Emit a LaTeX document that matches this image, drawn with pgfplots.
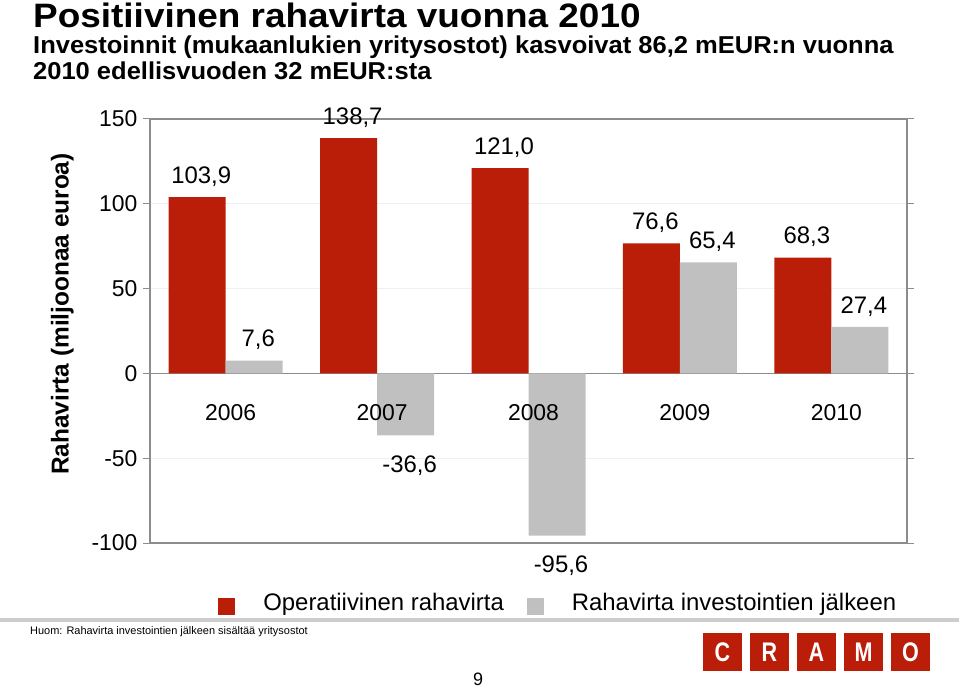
\documentclass[border=0pt]{standalone}
\usepackage{fontspec}
\setmainfont{Liberation Sans}
\newfontfamily\cond[FakeStretch=0.8]{Liberation Sans}
\newfontfamily\widetitle[FakeStretch=1.09]{Liberation Sans}
\newfontfamily\widesub[FakeStretch=1.045]{Liberation Sans}
\usepackage{pgfplots}
\pgfplotsset{compat=1.18}
\definecolor{cramored}{RGB}{186,30,8}
\definecolor{bargray}{RGB}{192,192,192}
\definecolor{framegray}{RGB}{140,140,140}
\pgfplotsset{
  layers/mylayers/.define layer set={axis background,axis grid,axis ticks,axis lines,main,axis tick labels,axis descriptions,axis foreground}{
    grid style={/pgfplots/on layer=axis grid},
    tick style={/pgfplots/on layer=axis ticks},
    axis line style={/pgfplots/on layer=axis lines},
    label style={/pgfplots/on layer=axis descriptions},
    legend style={/pgfplots/on layer=axis descriptions},
    ticklabel style={/pgfplots/on layer=axis tick labels},
  },
}

\begin{document}
\begin{tikzpicture}
\path (0bp,0bp) rectangle (959bp,689bp);
\node[anchor=base west, inner sep=0, font=\widetitle\bfseries\fontsize{34}{34}\selectfont] at (33bp,661bp) {Positiivinen rahavirta vuonna 2010};
\node[anchor=base west, inner sep=0, font=\widesub\bfseries\fontsize{24.5}{24.5}\selectfont] at (33bp,635bp) {Investoinnit (mukaanlukien yritysostot) kasvoivat 86,2 mEUR:n vuonna};
\node[anchor=base west, inner sep=0, font=\widesub\bfseries\fontsize{24.5}{24.5}\selectfont] at (33bp,609bp) {2010 edellisvuoden 32 mEUR:sta};

\begin{axis}[
  set layers=mylayers,
  at={(150bp,146bp)}, anchor=south west,
  width=757bp, height=424bp, scale only axis,
  xmin=0.5, xmax=5.5, ymin=-100, ymax=150,
  ybar=0pt, bar width=57bp,
  clip=false,
  xtick={1,2,3,4,5},
  xticklabels={2006,2007,2008,2009,2010},
  ytick={-100,-50,0,50,100,150},
  xtick style={draw=none},
  tick align=outside,
  major tick length=7bp,
  ytick style={framegray, line width=1pt},
  axis line style={framegray, line width=1.3pt},
  ymajorgrids,
  grid style={gray!12, line width=0.8pt},
  extra y ticks={0},
  extra y tick labels={},
  extra y tick style={grid=major, major grid style={framegray, line width=1.2pt}},
  /pgf/number format/assume math mode=true,
  yticklabel style={font=\fontsize{23}{23}\selectfont, xshift=-2bp},
  xticklabel style={font=\fontsize{23}{23}\selectfont, anchor=north, yshift=149bp, xshift=5bp},
  ylabel={Rahavirta (miljoonaa euroa)},
  ylabel style={font=\bfseries\fontsize{24.5}{24.5}\selectfont, at={(axis description cs:-0.116,0.54)}, anchor=center},
  visualization depends on=y \as \rawy,
  nodes near coords,
  nodes near coords style={font=\fontsize{24}{24}\selectfont, inner sep=0pt, xshift=4bp,
    yshift={ifthenelse(\rawy<0,-20,10.5)},
    /pgf/number format/.cd, fixed, fixed zerofill, precision=1, use comma, assume math mode=true},
  legend style={draw=none, fill=none, legend columns=2, inner sep=0pt,
    at={(0.09,-0.1435)}, anchor=west,
    nodes={inner sep=0pt},
    font=\fontsize{24}{24}\selectfont,
    /tikz/every odd column/.append style={column sep=28bp},
    /tikz/every even column/.append style={column sep=23bp},
    /tikz/column 3/.append style={column sep=23bp}},
  legend image code/.code={\fill[#1] (0bp,-12bp) rectangle (17bp,5bp);},
]
\addplot[fill=cramored, draw=none] coordinates {(1,103.9) (2,138.7) (3,121.0) (4,76.6) (5,68.3)};
\addlegendentry{Operatiivinen rahavirta}
\addplot[fill=bargray, draw=none] coordinates {(1,7.6) (2,-36.6) (3,-95.6) (4,65.4) (5,27.4)};
\addlegendentry{Rahavirta investointien jälkeen}
\end{axis}

\fill[gray!40] (0bp,67bp) rectangle (959bp,71bp);
\node[anchor=west, inner sep=0, font=\fontsize{11}{11}\selectfont] at (30bp,57bp) {Huom: Rahavirta investointien jälkeen sisältää yritysostot};
\foreach \x/\l in {703/C,750/R,797/A,844/M,891/O} {
  \fill[cramored] (\x bp,18bp) rectangle ++(39bp,38bp);
  \node[white, inner sep=0, font=\cond\bfseries\fontsize{27}{27}\selectfont] at (\x bp+19.5bp,37bp) {\l};
}
\node[inner sep=0, font=\fontsize{18}{18}\selectfont] at (478bp,10bp) {9};
\end{tikzpicture}
\end{document}
